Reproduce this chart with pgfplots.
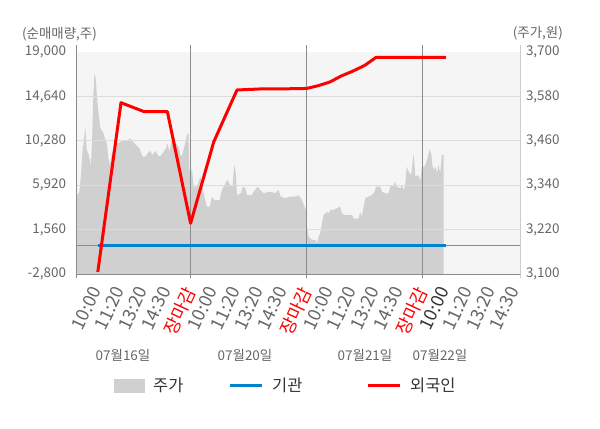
\documentclass[border=0pt]{standalone}
\usepackage{fontspec}
\setmainfont{Noto Sans CJK KR}
\usepackage{pgfplots}
\usepackage{pgfplotstable}
\pgfplotsset{compat=1.18}
\definecolor{bggray}{HTML}{F5F5F5}
\definecolor{areagray}{HTML}{D0D0D0}
\definecolor{gridgray}{HTML}{DCDCDC}
\definecolor{linegray}{HTML}{8C8C8C}
\definecolor{rightgray}{HTML}{CCCCCC}
\definecolor{txtgray}{HTML}{666666}
\definecolor{legtxt}{HTML}{333333}
\definecolor{instblue}{HTML}{0082CD}
\definecolor{forred}{HTML}{FF0000}
\newcommand\tf{\fontsize{13.5}{16}\selectfont}
\newcommand\xf{\fontsize{18}{21}\selectfont}
\newcommand\lf{\fontsize{16.5}{19}\selectfont}

\pgfplotstableread{
x y
0.06 3100
0.06 3322
0.13 3313
0.20 3322
0.23 3336
0.30 3390
0.34 3430
0.42 3471
0.46 3498
0.52 3435
0.59 3426
0.66 3408
0.70 3390
0.75 3453
0.81 3588
0.86 3642
0.92 3624
0.96 3579
1.03 3535
1.11 3494
1.21 3485
1.31 3467
1.39 3453
1.47 3408
1.52 3395
1.61 3427
1.71 3444
1.85 3453
2.00 3458
2.14 3462
2.25 3458
2.38 3467
2.50 3458
2.64 3449
2.79 3440
2.93 3417
3.05 3417
3.15 3426
3.25 3433
3.36 3422
3.48 3433
3.58 3422
3.68 3417
3.79 3426
3.94 3440
4.01 3453
4.08 3430
4.19 3462
4.30 3471
4.37 3453
4.48 3444
4.58 3417
4.66 3426
4.73 3444
4.84 3476
4.91 3480
4.94 3390
4.99 3363
5.06 3386
5.13 3336
5.27 3336
5.42 3363
5.49 3345
5.56 3318
5.70 3282
5.82 3282
5.92 3309
6.02 3300
6.25 3300
6.35 3327
6.50 3345
6.59 3354
6.71 3340
6.81 3336
6.88 3395
6.95 3372
7.00 3313
7.17 3318
7.25 3336
7.36 3332
7.43 3313
7.64 3313
7.72 3322
7.89 3336
8.00 3327
8.15 3318
8.36 3322
8.50 3322
8.65 3318
8.79 3327
8.89 3309
9.08 3305
9.30 3309
9.51 3309
9.66 3313
9.80 3300
9.91 3282
9.97 3273
10.01 3228
10.09 3201
10.16 3196
10.23 3192
10.38 3192
10.44 3183
10.52 3201
10.59 3210
10.66 3237
10.73 3259
10.88 3268
10.95 3264
11.02 3273
11.16 3273
11.31 3278
11.45 3282
11.52 3264
11.67 3259
11.95 3259
12.03 3250
12.24 3250
12.31 3268
12.38 3255
12.46 3282
12.53 3305
12.67 3309
12.81 3313
12.93 3322
12.99 3336
13.18 3336
13.25 3322
13.39 3318
13.53 3318
13.61 3336
13.75 3340
13.82 3349
13.89 3336
14.04 3332
14.11 3340
14.18 3327
14.25 3340
14.32 3390
14.40 3376
14.51 3368
14.61 3426
14.69 3363
14.80 3368
14.90 3354
14.97 3390
15.09 3390
15.19 3408
15.30 3437
15.38 3422
15.43 3390
15.52 3381
15.57 3390
15.62 3372
15.69 3395
15.76 3372
15.83 3422
15.91 3422
15.91 3100
}\pricetable

\pgfplotstableread{
x y
1 -2600
2 14020
3 13140
4 13140
5 2180
6 10190
7 15270
8 15370
9 15380
10 15420
10.5 15690
11 16050
11.5 16650
12 17130
12.5 17675
13 18480
14 18480
15 18480
16 18480
}\redtable

\pgfplotstableread{
x y
1 0
2 0
3 0
4 0
5 0
6 0
7 0
8 0
9 0
10 0
11 0
12 0
13 0
14 0
15 0
16 0
}\bluetable

\begin{document}
\begin{tikzpicture}[x=1bp,y=1bp]
\path[use as bounding box] (0,0) rectangle (600,428);
\begin{axis}[
  at={(76bp,154bp)}, anchor=south west,
  scale only axis, width=444bp, height=222bp,
  xmin=0.06, xmax=19.2, ymin=3100, ymax=3700,
  scaled y ticks=false,
  axis background/.style={fill=bggray},
  axis line style={draw=none},
  xtick=\empty,
  ytick={3100,3220,3340,3460,3580,3700},
  yticklabels={{3,100},{3,220},{3,340},{3,460},{3,580},{3,700}},
  yticklabel pos=right,
  major tick length=0pt,
  yticklabel style={font=\tf, text=txtgray, anchor=west, xshift=2.5bp},
]
\addplot[fill=areagray, draw=none] table {\pricetable};
\end{axis}
\begin{axis}[
  at={(76bp,154bp)}, anchor=south west,
  scale only axis, width=444bp, height=222bp,
  xmin=0.06, xmax=19.2, ymin=-2800, ymax=19000,
  scaled y ticks=false, scaled x ticks=false,
  axis line style={draw=none},
  clip=false,
  ytick={-2800,1560,5920,10280,14640},
  yticklabels={{-2,800},{1,560},{5,920},{10,280},{14,640}},
  extra y ticks={19000},
  extra y tick labels={19{,}000},
  extra y tick style={grid=none},
  ytick pos=left, xtick pos=bottom,
  ymajorgrids,
  major grid style={gridgray, line width=0.8bp},
  major tick length=0pt,
  yticklabel style={font=\tf, text=txtgray, anchor=east, xshift=-6.5bp},
  xtick={1,2,...,19},
  xticklabels={10:00,11:20,13:20,14:30,\textcolor{forred}{장마감},
               10:00,11:20,13:20,14:30,\textcolor{forred}{장마감},
               10:00,11:20,13:20,14:30,\textcolor{forred}{장마감},
               \textcolor{legtxt}{10:00},11:20,13:20,14:30},
  xticklabel style={font=\xf, text=txtgray, xshift=-8bp, yshift=-11bp, rotate=65, anchor=north east, inner sep=0pt},
]
\draw[linegray, line width=0.8bp] ([yshift=-4bp]axis cs:0.06,-2800) -- ([yshift=7bp]axis cs:0.06,19000);
\draw[linegray, line width=0.8bp] ([yshift=-4bp]axis cs:5,-2800) -- ([yshift=7bp]axis cs:5,19000);
\draw[linegray, line width=0.8bp] ([yshift=-4bp]axis cs:10,-2800) -- ([yshift=7bp]axis cs:10,19000);
\draw[linegray, line width=0.8bp] ([yshift=-4bp]axis cs:15,-2800) -- ([yshift=7bp]axis cs:15,19000);
\draw[rightgray, line width=0.8bp] ([yshift=-4bp]axis cs:19.2,-2800) -- ([yshift=7bp]axis cs:19.2,19000);
\draw[linegray, line width=0.8bp] (axis cs:0.06,-2800) -- (axis cs:19.2,-2800);
\draw[linegray, line width=0.8bp] (axis cs:0.06,0) -- (axis cs:19.2,0);
\addplot[instblue, line width=3bp] table {\bluetable};
\addplot[forred, line width=3bp, line join=round] table {\redtable};
\end{axis}
\node[anchor=west, text=txtgray, font=\tf, inner sep=0] at (22,394) {(순매매량,주)};
\node[anchor=east, text=txtgray, font=\tf, inner sep=0] at (563,395) {(주가,원)};
\node[text=txtgray, font=\tf] at (123,73) {07월16일};
\node[text=txtgray, font=\tf] at (245,73) {07월20일};
\node[text=txtgray, font=\tf] at (365,73) {07월21일};
\node[text=txtgray, font=\tf] at (440,73) {07월22일};
\fill[areagray] (114,35) rectangle (145,49);
\node[anchor=west, text=legtxt, font=\lf, inner sep=0] at (153,43) {주가};
\draw[instblue, line width=3bp] (230,43) -- (262,43);
\node[anchor=west, text=legtxt, font=\lf, inner sep=0] at (272,43) {기관};
\draw[forred, line width=3bp] (368,43) -- (400,43);
\node[anchor=west, text=legtxt, font=\lf, inner sep=0] at (410,43) {외국인};
\end{tikzpicture}
\end{document}
